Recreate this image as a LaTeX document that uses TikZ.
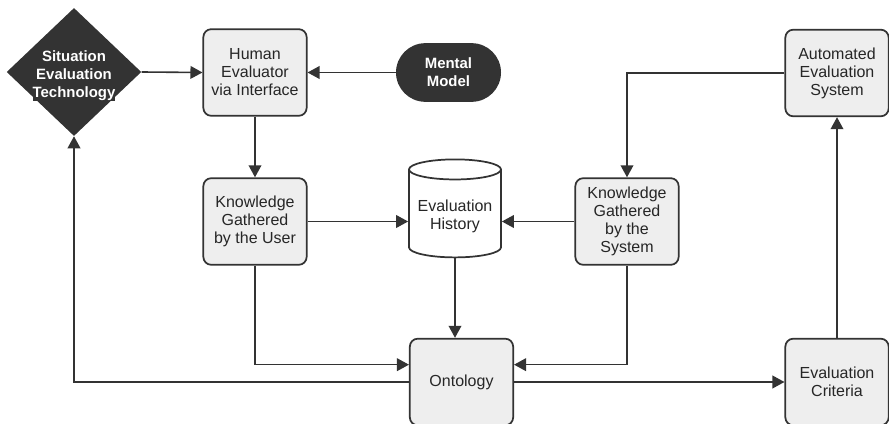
\documentclass[tikz,border=0pt]{standalone}
\usepackage{fontspec}
\setmainfont{Liberation Sans}
\usepackage{tikz}
\usetikzlibrary{arrows.meta,positioning,calc,shapes.geometric,shapes.misc}
\definecolor{darkfill}{HTML}{333333}
\definecolor{lightfill}{HTML}{EEEEEE}
\tikzset{box/.style={rectangle, rounded corners=6pt, minimum width=77.5pt, minimum height=65pt, inner sep=2pt, draw=darkfill, line width=1.3pt, fill=lightfill, align=center, text=black!85, font=\fontsize{12}{13.5}\selectfont},
	dark/.style={fill=darkfill, text=white, align=center, inner sep=0pt, font=\bfseries\fontsize{11.2}{13.5}\selectfont},
	link/.style={draw=darkfill, line width=1.2pt, -{Triangle[length=9pt,width=9.5pt]}}}

\begin{document}
\begin{tikzpicture}[x=0.75pt,y=-0.75pt]
		\useasboundingbox (0,0) rectangle (889,424);
		\node[dark, diamond, minimum width=101pt, minimum height=96pt, label={[dark,yshift=-3pt]center:{Situation\\Evaluation\\Technology}}] (set) at (74,72) {};
		\node[box] (human) at (255,72.5) {Human\\Evaluator\\via Interface};
		\node[dark, rounded rectangle, minimum width=78.75pt, minimum height=44pt] (mental) at (448.5,72.5) {Mental\\Model};
		\node[box] (aes) at (837,73) {Automated\\Evaluation\\System};
		\node[box] (kgu) at (255,221.5) {Knowledge\\Gathered\\by the User};
		\node[cylinder, shape border rotate=90, aspect=0.24, draw=darkfill, line width=1.3pt, fill=white, minimum width=69pt, minimum height=73.5pt, align=center, text=black!85, font=\fontsize{12}{13.5}\selectfont] (hist) at (455,216) {Evaluation\\History};
		\node[box] (kgs) at (627,221.5) {Knowledge\\Gathered\\by the\\System};
		\node[box] (onto) at (461.5,382) {Ontology};
		\node[box] (crit) at (837,382) {Evaluation\\Criteria};
		\draw[link] (set.east) -- (human.west);
		\draw[link] (mental.west) -- (human.east);
		\draw[link] (human.south) -- (kgu.north);
		\draw[link] (aes.west) -| (kgs.north);
		\draw[link] (kgu.east) -- (kgu.east -| hist.west);
		\draw[link] (kgs.west) -- (kgs.west -| hist.east);
		\draw[link] (hist.south) -- (hist.south |- onto.north);
		\draw[link] (kgu.south) |- ([yshift=13pt]onto.west);
		\draw[link] (kgs.south) |- ([yshift=13pt]onto.east);
		\draw[link] (onto.west) -| (set.south);
		\draw[link] (onto.east) -- (crit.west);
		\draw[link] (crit.north) -- (aes.south);
\end{tikzpicture}
\end{document}
